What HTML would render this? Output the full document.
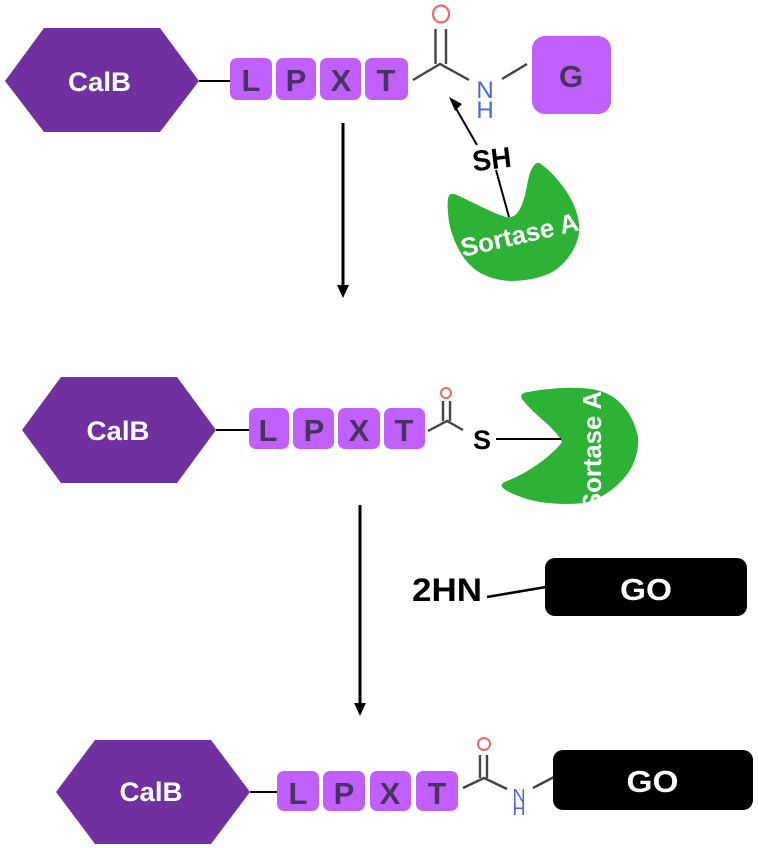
<!DOCTYPE html>
<html><head><meta charset="utf-8"><style>
html,body{margin:0;padding:0;background:#fff;width:758px;height:848px;overflow:hidden}
svg{display:block;filter:blur(0.35px)}
text{font-family:"Liberation Sans",sans-serif}
.hex{fill:#7030a0}
.cal{font-size:27px;font-weight:bold;fill:#fff;text-anchor:middle}
.box{fill:#c05ffb}
.aa{font-size:31px;font-weight:bold;fill:#47355f;text-anchor:middle}
.bond{stroke:#444;fill:none;stroke-width:2.4}
.ln{stroke:#000;fill:none;stroke-width:2}
.o{fill:none;stroke:#e86a6a}
.n{fill:#4a66d8;text-anchor:middle}
.blk{font-weight:bold;fill:#000;text-anchor:middle}
.go{font-size:31px;font-weight:bold;fill:#fff;text-anchor:middle}
.sa{font-size:26px;font-weight:bold;fill:#fff}
</style></head><body>
<svg width="758" height="848" viewBox="0 0 758 848" xmlns="http://www.w3.org/2000/svg">
<defs>
<clipPath id="c1"><path d="M448 199C449 193 452 193 457 195C472 202 495 214 506 217C516 219 521 210 525 195C528 182 529 172 533 167C535 163 538 162 541 164C552 172 564 186 571 199C577 211 580 222 579 232C578 245 568 262 554 271C542 278 526 281 510 281C494 280 480 275 470 265C460 255 452 238 449 222C448 213 447 206 448 199Z"/></clipPath>
<clipPath id="c2"><path d="M522 399C520 395 522 393 528 392C545 389 562 387 578 388C592 388 604 391 613 397C625 405 635 420 638 437C639 452 634 467 624 478C614 490 600 499 584 503C565 505 545 504 527 499C517 496 506 491 503 488C500 485 502 483 507 481C522 475 535 467 546 458C553 452 559 447 562 442C560 437 553 429 545 422C537 415 528 407 522 399Z"/></clipPath>
</defs>

<!-- Row 1 -->
<polygon class="hex" points="5,81 44,28 160,28 199,81 160,132 44,132"/>
<text class="cal" x="99.5" y="91" textLength="63" lengthAdjust="spacingAndGlyphs">CalB</text>
<line class="ln" x1="199" y1="81" x2="231" y2="81"/>
<rect class="box" x="230" y="58" width="42" height="42" rx="7"/>
<rect class="box" x="276" y="58" width="40" height="42" rx="7"/>
<rect class="box" x="320" y="58" width="41" height="42" rx="7"/>
<rect class="box" x="365" y="58" width="43" height="42" rx="7"/>
<text class="aa" x="251" y="91">L</text>
<text class="aa" x="296" y="91">P</text>
<text class="aa" x="341" y="91">X</text>
<text class="aa" x="386" y="91">T</text>
<path class="bond" d="M413 80L440 64L469 80M435.500 29V64M446 29V64"/>
<ellipse class="o" cx="441" cy="14" rx="8" ry="8.500" stroke-width="2.200"/>
<text class="n" x="485" y="98" font-size="24">N</text>
<text class="n" x="485" y="118" font-size="24">H</text>
<line class="bond" x1="502" y1="79" x2="527" y2="64"/>
<rect class="box" x="532" y="36" width="79" height="78" rx="13"/>
<text class="aa" x="571" y="87" font-size="33">G</text>
<line class="ln" x1="477" y1="145" x2="454" y2="105"/>
<polygon points="449,97 462,104 455,111" fill="#000"/>
<path fill="#2db236" d="M448 199C449 193 452 193 457 195C472 202 495 214 506 217C516 219 521 210 525 195C528 182 529 172 533 167C535 163 538 162 541 164C552 172 564 186 571 199C577 211 580 222 579 232C578 245 568 262 554 271C542 278 526 281 510 281C494 280 480 275 470 265C460 255 452 238 449 222C448 213 447 206 448 199Z"/>
<line class="ln" x1="496" y1="170" x2="509" y2="217"/>
<text class="blk" font-size="29" transform="translate(493,169) rotate(-7)" textLength="39" lengthAdjust="spacingAndGlyphs">SH</text>
<g clip-path="url(#c1)"><text class="sa" transform="translate(463,257) rotate(-13)" textLength="120" lengthAdjust="spacingAndGlyphs">Sortase A</text></g>

<line x1="343" y1="123" x2="343" y2="289" stroke="#000" stroke-width="3"/>
<polygon points="337,285 349,285 343,298" fill="#000"/>

<!-- Row 2 -->
<polygon class="hex" points="22,430 61,377 177,377 216,430 177,483 61,483"/>
<text class="cal" x="118" y="440" textLength="63" lengthAdjust="spacingAndGlyphs">CalB</text>
<line class="ln" x1="216" y1="430" x2="250" y2="430"/>
<rect class="box" x="249" y="408" width="40" height="41" rx="7"/>
<rect class="box" x="293" y="408" width="41" height="41" rx="7"/>
<rect class="box" x="338" y="408" width="42" height="41" rx="7"/>
<rect class="box" x="384" y="408" width="41" height="41" rx="7"/>
<text class="aa" x="268" y="441">L</text>
<text class="aa" x="314" y="441">P</text>
<text class="aa" x="359" y="441">X</text>
<text class="aa" x="404" y="441">T</text>
<path class="bond" d="M428 431L447 421L463 430M443 401V421M450 401V421"/>
<circle class="o" cx="446" cy="393" r="5" stroke-width="2"/>
<text class="blk" x="482" y="449" font-size="27">S</text>
<path fill="#2db236" d="M522 399C520 395 522 393 528 392C545 389 562 387 578 388C592 388 604 391 613 397C625 405 635 420 638 437C639 452 634 467 624 478C614 490 600 499 584 503C565 505 545 504 527 499C517 496 506 491 503 488C500 485 502 483 507 481C522 475 535 467 546 458C553 452 559 447 562 442C560 437 553 429 545 422C537 415 528 407 522 399Z"/>
<line class="ln" x1="496" y1="439" x2="561" y2="439"/>
<g clip-path="url(#c2)"><text class="sa" transform="translate(601,510) rotate(-90)" textLength="119" lengthAdjust="spacingAndGlyphs">Sortase A</text></g>

<line x1="360" y1="505" x2="360" y2="707" stroke="#000" stroke-width="3"/>
<polygon points="354,703 366,703 360,716" fill="#000"/>

<text class="blk" x="447" y="601" font-size="32" textLength="70" lengthAdjust="spacingAndGlyphs">2HN</text>
<line x1="487" y1="597" x2="546" y2="587" stroke="#000" stroke-width="2.500"/>
<rect x="545" y="558" width="202" height="58" rx="10" fill="#000"/>
<text class="go" x="646" y="600" textLength="52" lengthAdjust="spacingAndGlyphs">GO</text>

<!-- Row 3 -->
<polygon class="hex" points="56,792 95,740 211,740 250,792 211,844 95,844"/>
<text class="cal" x="151" y="801" textLength="63" lengthAdjust="spacingAndGlyphs">CalB</text>
<line class="ln" x1="250" y1="792" x2="279" y2="792"/>
<rect class="box" x="277" y="771" width="42" height="40" rx="7"/>
<rect class="box" x="323" y="771" width="42" height="40" rx="7"/>
<rect class="box" x="370" y="771" width="41" height="40" rx="7"/>
<rect class="box" x="416" y="771" width="42" height="40" rx="7"/>
<text class="aa" x="298" y="804">L</text>
<text class="aa" x="344" y="804">P</text>
<text class="aa" x="390" y="804">X</text>
<text class="aa" x="437" y="804">T</text>
<path class="bond" d="M463 788L484 778L507 789M480 755V778M487 755V778"/>
<circle class="o" cx="484" cy="744" r="6" stroke-width="2"/>
<text class="n" x="519" y="802" font-size="18">N</text>
<text class="n" x="519" y="815" font-size="18">H</text>
<line class="bond" x1="533" y1="788" x2="554" y2="777"/>
<rect x="553" y="750" width="200" height="60" rx="10" fill="#000"/>
<text class="go" x="652.500" y="792" textLength="52" lengthAdjust="spacingAndGlyphs">GO</text>
</svg>
</body></html>
